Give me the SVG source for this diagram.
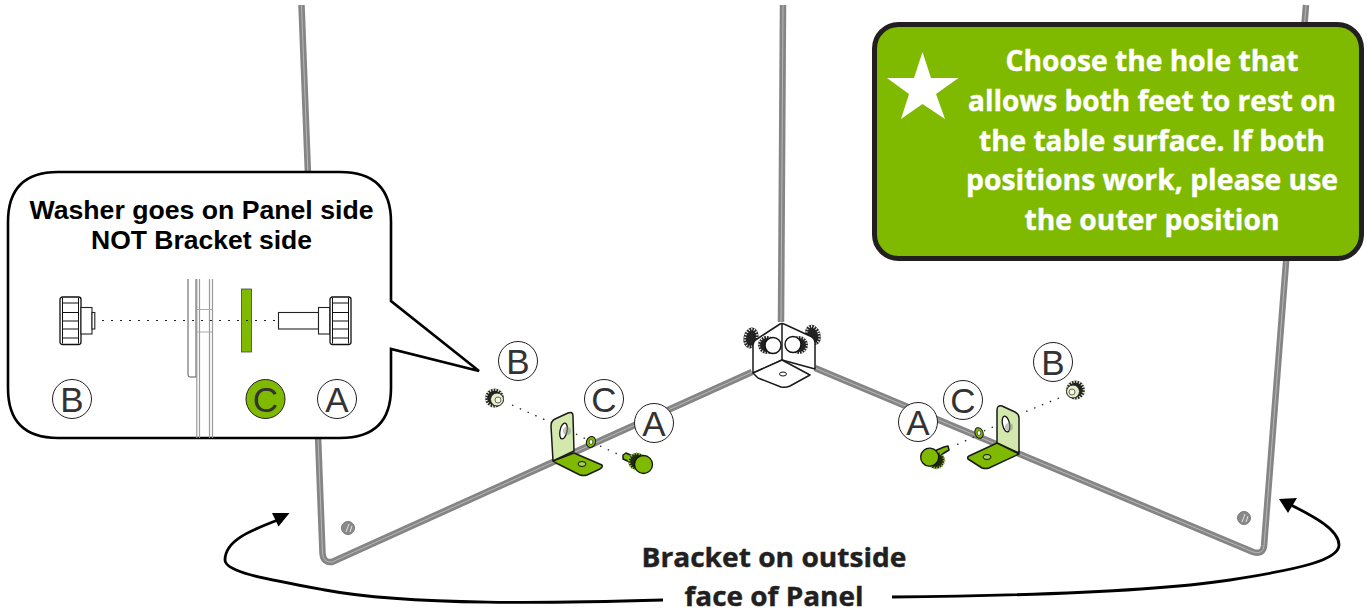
<svg xmlns="http://www.w3.org/2000/svg" xmlns:xlink="http://www.w3.org/1999/xlink" width="1367" height="612" viewBox="0 0 1367 612">
<style>
.panel{fill:none;stroke:#858585;stroke-width:6.500;stroke-linejoin:round}
.panelin{fill:none;stroke:#bdbdbd;stroke-width:.9;stroke-linejoin:round}
.part{stroke:#1a1a1a;stroke-width:1.500;stroke-linejoin:round}
.dot{fill:none;stroke:#222;stroke-width:1.300;stroke-dasharray:1.500 7}
.lab{font-family:"Liberation Sans",Arial,sans-serif;font-size:35px;fill:#333;text-anchor:middle}
.circ{fill:#fff;stroke:#231f20;stroke-width:1}
.head{font-family:"Liberation Sans",Arial,sans-serif;font-weight:700;font-size:26.500px;fill:#000;text-anchor:middle}
.note{font-family:"Open Sans",sans-serif;font-weight:700;font-size:29px;fill:#fff;stroke:#fff;stroke-width:.4;text-anchor:middle}
.cap{font-family:"Open Sans",sans-serif;font-weight:700;font-size:27px;fill:#231f20;stroke:#231f20;stroke-width:.4;text-anchor:middle}
.thin{fill:#fff;stroke:#222;stroke-width:1.100}
.curve{fill:none;stroke:#000;stroke-width:2.800}
</style>
<defs>
<g id="sideknob">
<rect x="0" y="0" width="21" height="47.500" rx="2.500" fill="#fff" stroke="#111" stroke-width="1.300"/>
<path d="M2.500 1V46.500M18.500 1V46.500M2.500 6H18.500M2.500 15.500H18.500M2.500 24H18.500M2.500 32H18.500M2.500 41H18.500" fill="none" stroke="#111" stroke-width="1"/>
</g>
<g id="knobgreen">
<circle cx="-5" cy="-2.500" r="8.500" fill="#1f2a0a"/>
<circle cx="-5" cy="-2.500" r="8" fill="none" stroke="#9ccb45" stroke-width="2.500" stroke-dasharray="1.200 1.600"/>
<circle cx="1.500" cy="0.500" r="9" fill="#7fba00" stroke="#111" stroke-width="1.300"/>
</g>
<g id="knobpale">
<circle cx="-1.500" cy="-1" r="9.500" fill="#222"/>
<circle cx="-1.500" cy="-1" r="8.500" fill="none" stroke="#e6efcf" stroke-width="2.600" stroke-dasharray="1.300 1.600"/>
<circle cx="1" cy="0.500" r="6.500" fill="#e4eec8" stroke="#222" stroke-width="1"/>
<circle cx="2" cy="1" r="3" fill="#f4f7e8" stroke="#444" stroke-width=".8"/>
</g>
<g id="knobback">
<ellipse rx="7.500" ry="10.500" fill="#222"/>
<ellipse rx="6" ry="9" fill="none" stroke="#eee" stroke-width="2.400" stroke-dasharray="1.100 1.700"/>
</g>
<g id="knobfront">
<circle cx="-4" cy="0" r="9" fill="#222"/>
<circle cx="-4" cy="0" r="8" fill="none" stroke="#eee" stroke-width="2.200" stroke-dasharray="1.100 1.700"/>
<circle cx="2" cy="0.500" r="8" fill="#fff" stroke="#111" stroke-width="1.400"/>
</g>
</defs>

<g id="panels">
<path class="panel" d="M301.500 5L322.500 553Q323 563 332 562L752 372"/>
<path class="panelin" d="M301.500 5L322.500 553Q323 563 332 562L752 372"/>
<path class="panel" d="M783 5L781 322"/>
<path class="panelin" d="M783 5L781 322"/>
<path class="panel" d="M815 368L1253 552Q1263 555 1264 546L1306 5"/>
<path class="panelin" d="M815 368L1253 552Q1263 555 1264 546L1306 5"/>
<g fill="#8a8a8a" stroke="#777"><circle cx="348" cy="528" r="6.500"/><circle cx="1244" cy="518" r="6.500"/></g>
<path d="M346 532L349 524M350 532L352 526M1242 522L1245 514M1246 522L1248 516" stroke="#e4e4e4" fill="none"/>
</g>

<g id="center-bracket">
<use xlink:href="#knobback" href="#knobback" x="751" y="338" transform="rotate(12 751 338)"/>
<use xlink:href="#knobback" href="#knobback" x="813" y="335" transform="rotate(-20 813 335)"/>
<path class="part" fill="#fff" stroke-width="1.800" d="M753 346Q753 341 757 339L780 324Q782 323 784 324L810 336Q815 338 815 343L815 369L782 360L753 373Z"/>
<path class="part" fill="none" stroke-width="1.800" d="M782 324V360"/>
<path class="part" fill="#fff" stroke-width="1.800" d="M753 373L782 360L810 375L790 386Q786 388 781 387L758 378Z"/>
<ellipse cx="783" cy="374" rx="3.500" ry="2" fill="#fff" stroke="#111"/>
<use xlink:href="#knobfront" href="#knobfront" x="771" y="345"/>
<use xlink:href="#knobfront" href="#knobfront" x="795" y="345" transform="rotate(180 795 345)"/>
</g>

<g id="left-bracket">
<path class="dot" d="M512 405L552 423"/>
<path class="dot" d="M576 434L590 441"/>
<path class="dot" d="M600 446L622 456"/>
<path class="part" fill="#d3e8ad" d="M551 426Q551 421 555 419L568 413Q573 411 573 416L574 451L553 461Z"/>
<ellipse cx="563.500" cy="431" rx="3.500" ry="8" transform="rotate(12 563.500 431)" fill="#fff" stroke="#111" stroke-width="1.300"/>
<circle cx="567" cy="431" r="4" fill="#8a8a8a" opacity=".5"/>
<path class="part" fill="#7fba00" d="M553 461L574 453L602 465Q603 467 600 469L587 475Q584 476 580 475L556 463Z"/>
<ellipse cx="582" cy="464" rx="4" ry="2.500" fill="#a5cf50" stroke="#111"/>
<ellipse cx="591" cy="442" rx="4.500" ry="5.500" fill="#7fba00" stroke="#111" transform="rotate(20 591 442)"/>
<ellipse cx="591" cy="442" rx="1.800" ry="2.400" fill="#fff" stroke="#111" stroke-width=".6"/>
<path class="part" fill="#7fba00" stroke-width="1" d="M623 455L626 453L637 458L634 464L623 459Z"/>
<use xlink:href="#knobgreen" href="#knobgreen" x="642" y="464"/>
<use xlink:href="#knobpale" href="#knobpale" x="496" y="399"/>
</g>

<g id="right-bracket">
<path class="dot" d="M1059 398L1020 414"/>
<path class="dot" d="M993 427L984 431"/>
<path class="dot" d="M974 437L956 445"/>
<path class="part" fill="#d3e8ad" d="M997 410Q997 405 1002 406L1015 412Q1019 414 1019 418L1019 453L997 443Z"/>
<ellipse cx="1006" cy="424" rx="3.500" ry="8" transform="rotate(-12 1006 424)" fill="#fff" stroke="#111" stroke-width="1.300"/>
<circle cx="1009" cy="427" r="4" fill="#8a8a8a" opacity=".5"/>
<path class="part" fill="#7fba00" d="M997 443L1019 454L989 468Q986 469 982 468L968 459Q967 457 969 456Z"/>
<ellipse cx="987" cy="457" rx="4" ry="2.500" fill="#a5cf50" stroke="#111"/>
<ellipse cx="979" cy="433" rx="4" ry="5.500" fill="#7fba00" stroke="#111" transform="rotate(-20 979 433)"/>
<ellipse cx="979" cy="433" rx="1.800" ry="2.400" fill="#fff" stroke="#111" stroke-width=".6"/>
<path class="part" fill="#7fba00" stroke-width="1" d="M948 446L949 450L936 458L932 452L944 447Z"/>
<g transform="translate(931 458) scale(-1 1)"><use xlink:href="#knobgreen" href="#knobgreen" transform="rotate(-50)"/></g>
<g transform="translate(1074 391) scale(-1 1)"><use xlink:href="#knobpale" href="#knobpale"/></g>
</g>

<g id="labels">
<g id="label-b-left"><circle class="circ" cx="518" cy="361" r="19.500"/><text class="lab" x="518" y="373.500">B</text></g>
<g id="label-c-left"><circle class="circ" cx="604" cy="399" r="19.500"/><text class="lab" x="604" y="411.500">C</text></g>
<g id="label-a-left"><circle class="circ" cx="654" cy="423" r="19.500"/><text class="lab" x="654" y="435.500">A</text></g>
<g id="label-b-right"><circle class="circ" cx="1053" cy="362" r="19.500"/><text class="lab" x="1053" y="374.500">B</text></g>
<g id="label-c-right"><circle class="circ" cx="963" cy="400" r="19.500"/><text class="lab" x="963" y="412.500">C</text></g>
<g id="label-a-right"><circle class="circ" cx="918" cy="422" r="19.500"/><text class="lab" x="918" y="434.500">A</text></g>
</g>

<g id="callout">
<path fill="#fff" stroke="#000" stroke-width="2.600" stroke-linejoin="miter" d="M58 172H340Q391 172 391 222V301L479 371L391 349V388Q391 438 340 438H58Q8 438 8 388V222Q8 172 58 172Z"/>
<text class="head" x="201.500" y="218.500" textLength="344" lengthAdjust="spacingAndGlyphs">Washer goes on Panel side</text>
<text class="head" x="201.500" y="248.500" textLength="221" lengthAdjust="spacingAndGlyphs">NOT Bracket side</text>
<use xlink:href="#sideknob" href="#sideknob" x="60" y="297"/>
<rect class="thin" x="81" y="307.500" width="11" height="26.500"/>
<rect class="thin" x="92" y="312.500" width="2.800" height="16.500"/>
<path d="M188 279V375Q188 377 190 377H196V279" fill="#fff" stroke="#555" stroke-width="1"/>
<path d="M196.800 279V438M199.500 279V438M209.500 279V438M212.500 279V438" fill="none" stroke="#999" stroke-width="1.200"/>
<path d="M197 309.500H212M197 332H212" fill="none" stroke="#aaa"/>
<rect x="241.500" y="289" width="10" height="63" fill="#7fba00" stroke="#444" stroke-width=".8"/>
<path d="M102 320.500H277" fill="none" stroke="#222" stroke-width="1" stroke-dasharray="2 7"/>
<rect class="thin" x="278.500" y="312.500" width="40" height="16.500"/>
<rect class="thin" x="318.500" y="307.500" width="11.500" height="26.500"/>
<use xlink:href="#sideknob" href="#sideknob" x="330" y="297"/>
<g id="callout-b"><circle class="circ" cx="72" cy="399" r="19.500"/><text class="lab" x="72" y="411.500">B</text></g>
<g id="callout-c"><circle cx="265.500" cy="399" r="19.500" fill="#7fba00" stroke="#231f20"/><text class="lab" x="265.500" y="411.500">C</text></g>
<g id="callout-a"><circle class="circ" cx="337" cy="399" r="19.500"/><text class="lab" x="337" y="411.500">A</text></g>
</g>

<g id="note">
<rect x="874.500" y="24.500" width="487" height="234" rx="24" fill="#7fba00" stroke="#231f20" stroke-width="5"/>
<path fill="#fff" d="M922.500 52L931 78H958.500L936 94L945 119L922.500 104L901 119L909 94L887 78H914Z"/>
<text class="note" x="1152" y="71" textLength="293" lengthAdjust="spacingAndGlyphs">Choose the hole that</text>
<text class="note" x="1152" y="111" textLength="368" lengthAdjust="spacingAndGlyphs">allows both feet to rest on</text>
<text class="note" x="1152" y="151" textLength="346" lengthAdjust="spacingAndGlyphs">the table surface. If both</text>
<text class="note" x="1152" y="190" textLength="372" lengthAdjust="spacingAndGlyphs">positions work, please use</text>
<text class="note" x="1152" y="230" textLength="255" lengthAdjust="spacingAndGlyphs">the outer position</text>
</g>

<g id="connectors">
<path class="curve" d="M663 600C560 603 410 606 325 590C265 579 225 572 225 560C225 540 252 530 278 520"/>
<path d="M289.500 513L272 513L278.500 526.500Z" fill="#000"/>
<path class="curve" d="M892 597C1000 596 1150 592 1230 580C1300 569 1339 560 1339 545C1339 530 1315 517 1291 505"/>
<path d="M1279 499L1297 498L1288 513Z" fill="#000"/>
</g>

<g id="caption">
<text class="cap" x="774" y="567" textLength="265" lengthAdjust="spacingAndGlyphs">Bracket on outside</text>
<text class="cap" x="774" y="606" textLength="179" lengthAdjust="spacingAndGlyphs">face of Panel</text>
</g>
</svg>
